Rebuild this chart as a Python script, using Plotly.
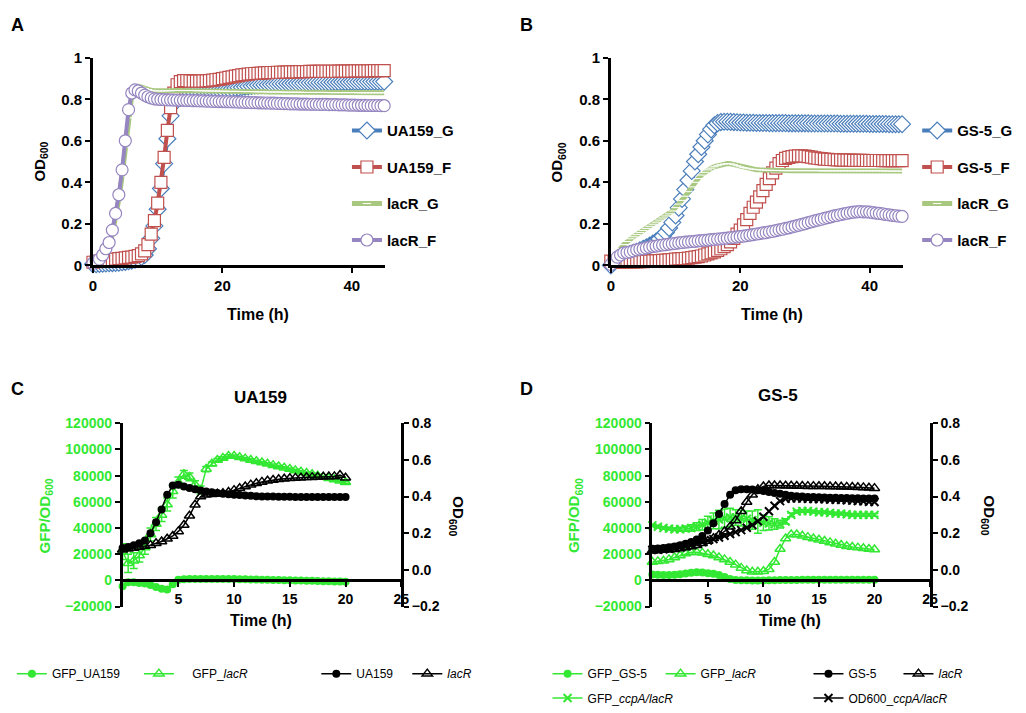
import plotly.graph_objects as go

# ---------------- data ----------------
hours_ab = [0, 0.5, 1, 1.5, 2, 2.5, 3, 3.5, 4, 4.5,
            5, 5.5, 6, 6.5, 7, 7.5, 8, 8.5, 9, 9.5,
            10, 10.5, 11, 11.5, 12, 12.5, 13, 13.5, 14, 14.5,
            15, 15.5, 16, 16.5, 17, 17.5, 18, 18.5, 19, 19.5,
            20, 20.5, 21, 21.5, 22, 22.5, 23, 23.5, 24, 24.5,
            25, 25.5, 26, 26.5, 27, 27.5, 28, 28.5, 29, 29.5,
            30, 30.5, 31, 31.5, 32, 32.5, 33, 33.5, 34, 34.5,
            35, 35.5, 36, 36.5, 37, 37.5, 38, 38.5, 39, 39.5,
            40, 40.5, 41, 41.5, 42, 42.5, 43, 43.5, 44, 44.5,
            45]

# panel A (UA159 background)
a_ua159_g = [0.005, 0.006, 0.007, 0.008, 0.009, 0.010, 0.011, 0.012, 0.013, 0.015,
             0.017, 0.020, 0.023, 0.027, 0.032, 0.040, 0.050, 0.080, 0.130, 0.190,
             0.270, 0.370, 0.490, 0.610, 0.720, 0.780, 0.810, 0.820, 0.825, 0.830,
             0.833, 0.835, 0.837, 0.838, 0.840, 0.841, 0.842, 0.843, 0.844, 0.845,
             0.846, 0.848, 0.850, 0.852, 0.854, 0.856, 0.858, 0.860, 0.862, 0.864,
             0.866, 0.867, 0.868, 0.869, 0.870, 0.871, 0.872, 0.873, 0.874, 0.875,
             0.876, 0.876, 0.877, 0.877, 0.878, 0.878, 0.879, 0.879, 0.880, 0.880,
             0.880, 0.881, 0.881, 0.881, 0.882, 0.882, 0.882, 0.883, 0.883, 0.883,
             0.884, 0.884, 0.884, 0.884, 0.885, 0.885, 0.885, 0.885, 0.885, 0.885,
             0.885]
a_ua159_f = [0.015, 0.018, 0.020, 0.022, 0.024, 0.026, 0.028, 0.030, 0.032, 0.034,
             0.036, 0.038, 0.040, 0.043, 0.047, 0.055, 0.070, 0.100, 0.150, 0.215,
             0.300, 0.400, 0.520, 0.650, 0.760, 0.830, 0.870, 0.885, 0.890, 0.890,
             0.888, 0.887, 0.887, 0.887, 0.888, 0.889, 0.890, 0.892, 0.894, 0.896,
             0.899, 0.902, 0.905, 0.908, 0.911, 0.914, 0.917, 0.919, 0.921, 0.923,
             0.924, 0.925, 0.926, 0.927, 0.928, 0.929, 0.929, 0.930, 0.930, 0.931,
             0.931, 0.932, 0.932, 0.932, 0.933, 0.933, 0.933, 0.934, 0.934, 0.934,
             0.934, 0.935, 0.935, 0.935, 0.935, 0.935, 0.936, 0.936, 0.936, 0.936,
             0.936, 0.937, 0.937, 0.937, 0.937, 0.937, 0.937, 0.938, 0.938, 0.938,
             0.938]
a_lacr_g = [0.010, 0.015, 0.022, 0.040, 0.070, 0.100, 0.150, 0.230, 0.320, 0.430,
            0.570, 0.710, 0.820, 0.855, 0.862, 0.858, 0.852, 0.847, 0.843, 0.841,
            0.840, 0.840, 0.840, 0.841, 0.841, 0.842, 0.842, 0.842, 0.842, 0.842,
            0.842, 0.842, 0.841, 0.841, 0.841, 0.840, 0.840, 0.840, 0.840, 0.839,
            0.839, 0.839, 0.838, 0.838, 0.838, 0.838, 0.837, 0.837, 0.837, 0.837,
            0.836, 0.836, 0.836, 0.836, 0.835, 0.835, 0.835, 0.835, 0.835, 0.834,
            0.834, 0.834, 0.834, 0.834, 0.834, 0.833, 0.833, 0.833, 0.833, 0.833,
            0.833, 0.833, 0.833, 0.832, 0.832, 0.832, 0.832, 0.832, 0.832, 0.832,
            0.832, 0.832, 0.831, 0.831, 0.831, 0.831, 0.831, 0.831, 0.831, 0.831,
            0.831]
a_lacr_f = [0.010, 0.020, 0.030, 0.050, 0.080, 0.110, 0.170, 0.250, 0.340, 0.460,
            0.600, 0.750, 0.830, 0.845, 0.840, 0.830, 0.820, 0.812, 0.806, 0.802,
            0.800, 0.799, 0.798, 0.797, 0.797, 0.796, 0.796, 0.795, 0.795, 0.794,
            0.794, 0.793, 0.793, 0.792, 0.792, 0.791, 0.791, 0.790, 0.790, 0.789,
            0.789, 0.788, 0.788, 0.787, 0.787, 0.786, 0.786, 0.785, 0.785, 0.784,
            0.784, 0.783, 0.783, 0.782, 0.782, 0.781, 0.781, 0.780, 0.780, 0.779,
            0.779, 0.778, 0.778, 0.778, 0.777, 0.777, 0.777, 0.776, 0.776, 0.776,
            0.775, 0.775, 0.775, 0.774, 0.774, 0.774, 0.773, 0.773, 0.773, 0.772,
            0.772, 0.772, 0.771, 0.771, 0.771, 0.770, 0.770, 0.770, 0.770, 0.769,
            0.769]

# panel B (GS-5 background)
b_gs5_g = [0.000, 0.015, 0.030, 0.038, 0.045, 0.050, 0.055, 0.060, 0.065, 0.072,
           0.080, 0.087, 0.095, 0.105, 0.115, 0.127, 0.140, 0.158, 0.180, 0.207,
           0.240, 0.278, 0.320, 0.365, 0.410, 0.455, 0.500, 0.535, 0.570, 0.600,
           0.630, 0.655, 0.675, 0.685, 0.690, 0.692, 0.692, 0.691, 0.690, 0.689,
           0.688, 0.688, 0.687, 0.687, 0.687, 0.686, 0.686, 0.686, 0.686, 0.685,
           0.685, 0.685, 0.685, 0.685, 0.685, 0.684, 0.684, 0.684, 0.684, 0.684,
           0.684, 0.684, 0.683, 0.683, 0.683, 0.683, 0.683, 0.683, 0.683, 0.683,
           0.683, 0.682, 0.682, 0.682, 0.682, 0.682, 0.682, 0.682, 0.682, 0.682,
           0.681, 0.681, 0.681, 0.681, 0.681, 0.681, 0.680, 0.680, 0.680, 0.680,
           0.680]
b_gs5_f = [0.020, 0.018, 0.017, 0.016, 0.016, 0.016, 0.016, 0.017, 0.017, 0.018,
           0.018, 0.019, 0.020, 0.021, 0.022, 0.023, 0.024, 0.025, 0.026, 0.028,
           0.030, 0.031, 0.032, 0.033, 0.035, 0.037, 0.040, 0.042, 0.045, 0.050,
           0.055, 0.060, 0.065, 0.072, 0.080, 0.090, 0.100, 0.113, 0.130, 0.150,
           0.170, 0.195, 0.220, 0.250, 0.280, 0.305, 0.330, 0.360, 0.390, 0.418,
           0.445, 0.468, 0.490, 0.505, 0.515, 0.520, 0.524, 0.526, 0.527, 0.527,
           0.526, 0.524, 0.521, 0.518, 0.516, 0.514, 0.512, 0.511, 0.510, 0.509,
           0.508, 0.508, 0.507, 0.507, 0.507, 0.506, 0.506, 0.506, 0.506, 0.505,
           0.505, 0.505, 0.505, 0.505, 0.504, 0.504, 0.504, 0.504, 0.504, 0.504,
           0.504]
b_lacr_g = [0.000, 0.030, 0.060, 0.080, 0.100, 0.115, 0.128, 0.138, 0.148, 0.158,
            0.168, 0.178, 0.188, 0.198, 0.208, 0.218, 0.228, 0.238, 0.248, 0.262,
            0.278, 0.295, 0.313, 0.333, 0.355, 0.378, 0.400, 0.418, 0.435, 0.448,
            0.460, 0.468, 0.475, 0.480, 0.485, 0.488, 0.490, 0.489, 0.485, 0.480,
            0.475, 0.471, 0.468, 0.465, 0.463, 0.461, 0.460, 0.459, 0.458, 0.458,
            0.457, 0.457, 0.457, 0.456, 0.456, 0.456, 0.456, 0.456, 0.456, 0.456,
            0.456, 0.456, 0.456, 0.456, 0.456, 0.455, 0.455, 0.455, 0.455, 0.455,
            0.455, 0.455, 0.455, 0.455, 0.455, 0.455, 0.455, 0.455, 0.455, 0.455,
            0.455, 0.455, 0.455, 0.455, 0.455, 0.454, 0.454, 0.454, 0.454, 0.454,
            0.454]
b_lacr_f = [0.005, 0.020, 0.040, 0.050, 0.060, 0.062, 0.065, 0.070, 0.075, 0.078,
            0.080, 0.084, 0.088, 0.091, 0.093, 0.096, 0.098, 0.100, 0.102, 0.104,
            0.106, 0.108, 0.110, 0.112, 0.113, 0.115, 0.116, 0.118, 0.119, 0.121,
            0.122, 0.124, 0.125, 0.127, 0.128, 0.130, 0.131, 0.133, 0.135, 0.137,
            0.139, 0.141, 0.143, 0.146, 0.148, 0.151, 0.153, 0.156, 0.158, 0.161,
            0.164, 0.167, 0.171, 0.174, 0.178, 0.181, 0.185, 0.189, 0.193, 0.197,
            0.201, 0.206, 0.210, 0.214, 0.218, 0.222, 0.226, 0.230, 0.234, 0.238,
            0.241, 0.245, 0.248, 0.251, 0.254, 0.256, 0.258, 0.259, 0.258, 0.258,
            0.256, 0.254, 0.252, 0.250, 0.248, 0.245, 0.243, 0.241, 0.239, 0.237,
            0.236]

hours_cd = [0, 0.5, 1, 1.5, 2, 2.5, 3, 3.5, 4, 4.5,
            5, 5.5, 6, 6.5, 7, 7.5, 8, 8.5, 9, 9.5,
            10, 10.5, 11, 11.5, 12, 12.5, 13, 13.5, 14, 14.5,
            15, 15.5, 16, 16.5, 17, 17.5, 18, 18.5, 19, 19.5,
            20]

# panel C (UA159)
c_gfp_ua159 = [-4500, -1500, -1500, -2000, -2500, -3500, -5000, -6500, -7000, -3000,
               500, 800, 1000, 1000, 1000, 1000, 1000, 1000, 1000, 1000,
               1000, 900, 800, 700, 600, 500, 400, 300, 200, 100,
               0, -100, -200, -300, -400, -500, -600, -700, -800, -900,
               -1000]
c_gfp_lacr = [22000, 13000, 15000, 19000, 25000, 35000, 43000, 50000, 58000, 68000,
              75000, 81000, 79000, 73000, 69000, 85000, 89000, 92000, 93500, 95000,
              95000, 94000, 93000, 92000, 91000, 90000, 89000, 88000, 87000, 86000,
              85000, 84000, 83000, 82000, 81000, 80000, 79000, 78000, 77000, 76000,
              75000]
c_gfp_lacr_err = [6000, 7000, 6000, 5000, 5000, 5000, 5000, 5000, 5000, 5000,
                  4000, 3000, 3000, 3000, 3000, 2000, 1500, 1000, 1000, 1000,
                  800, 800, 800, 800, 800, 800, 800, 800, 800, 800,
                  800, 800, 800, 800, 800, 800, 800, 800, 800, 800,
                  800]
c_od_ua159 = [0.120, 0.125, 0.135, 0.145, 0.160, 0.200, 0.260, 0.330, 0.410, 0.460,
              0.465, 0.455, 0.447, 0.440, 0.433, 0.428, 0.424, 0.420, 0.416, 0.413,
              0.410, 0.408, 0.406, 0.404, 0.402, 0.401, 0.400, 0.400, 0.399, 0.399,
              0.399, 0.398, 0.398, 0.398, 0.398, 0.398, 0.398, 0.398, 0.398, 0.398,
              0.398]
c_od_lacr = [0.110, 0.115, 0.120, 0.125, 0.130, 0.135, 0.145, 0.155, 0.170, 0.185,
             0.210, 0.245, 0.295, 0.355, 0.400, 0.410, 0.413, 0.415, 0.418, 0.425,
             0.435, 0.445, 0.455, 0.465, 0.473, 0.480, 0.486, 0.490, 0.494, 0.497,
             0.500, 0.502, 0.503, 0.505, 0.506, 0.507, 0.508, 0.509, 0.510, 0.518,
             0.503]

# panel D (GS-5)
d_gfp_gs5 = [4500, 4200, 4000, 4000, 4200, 4600, 5200, 5800, 6200, 6000,
             5500, 5000, 4000, 2500, 1000, 300, 100, 0, -100, -100,
             -100, 0, 100, 200, 200, 300, 300, 400, 400, 400,
             400, 400, 500, 500, 500, 500, 500, 500, 500, 500,
             500]
d_gfp_lacr = [14000, 14500, 15000, 16000, 17500, 19000, 20500, 21500, 21500, 21000,
              20000, 19000, 17500, 16000, 14000, 12000, 9500, 7500, 6500, 6500,
              7000, 8500, 14000, 24000, 32000, 35000, 35000, 34000, 33000, 32000,
              31000, 30000, 29000, 28000, 27000, 26000, 25500, 25000, 24500, 24000,
              23500]
d_gfp_ccpa = [42000, 41000, 40000, 39500, 39000, 39000, 39500, 40000, 41000, 42500,
              44000, 45500, 46500, 47500, 48000, 48000, 47500, 47000, 46000, 45000,
              44000, 43500, 43000, 43000, 45000, 50000, 52500, 53000, 53000, 52500,
              52000, 52000, 51500, 51000, 51000, 50500, 50000, 50000, 50000, 50000,
              50000]
d_gfp_ccpa_err = [1000, 1000, 1000, 1000, 1000, 1500, 2000, 2500, 3000, 4000,
                  5000, 6000, 7000, 7000, 7000, 6000, 6000, 6000, 7000, 9000,
                  6000, 5000, 4000, 3000, 2000, 1500, 1000, 1000, 1000, 1000,
                  1000, 1000, 1000, 1000, 1000, 1000, 1000, 1000, 1000, 1000,
                  1000]
d_od_gs5 = [0.115, 0.117, 0.120, 0.123, 0.128, 0.134, 0.142, 0.152, 0.166, 0.185,
            0.215, 0.255, 0.305, 0.360, 0.410, 0.435, 0.440, 0.440, 0.438, 0.435,
            0.430, 0.425, 0.420, 0.415, 0.410, 0.405, 0.402, 0.400, 0.398, 0.397,
            0.396, 0.395, 0.394, 0.393, 0.392, 0.392, 0.391, 0.391, 0.390, 0.390,
            0.390]
d_od_lacr = [0.105, 0.106, 0.108, 0.110, 0.113, 0.117, 0.122, 0.128, 0.135, 0.145,
             0.158, 0.172, 0.190, 0.210, 0.235, 0.270, 0.320, 0.370, 0.410, 0.440,
             0.455, 0.460, 0.460, 0.460, 0.459, 0.459, 0.458, 0.458, 0.457, 0.457,
             0.456, 0.456, 0.455, 0.455, 0.454, 0.453, 0.452, 0.451, 0.450, 0.448,
             0.446]
d_od_ccpa = [0.110, 0.110, 0.112, 0.115, 0.120, 0.125, 0.130, 0.138, 0.145, 0.152,
             0.160, 0.168, 0.177, 0.186, 0.196, 0.206, 0.217, 0.230, 0.245, 0.265,
             0.290, 0.320, 0.350, 0.375, 0.388, 0.390, 0.390, 0.389, 0.388, 0.387,
             0.386, 0.385, 0.384, 0.383, 0.382, 0.380, 0.378, 0.376, 0.374, 0.372,
             0.370]

# ---------------- style ----------------
W, H = 1026, 713
FONT = 'Arial, Liberation Sans, sans-serif'
BLUE, RED, GREEN_A, PURPLE = '#4a7ebb', '#c0504d', '#a8c880', '#9585c0'
GREEN = '#33e833'
NB = '\u00a0'


def px(x):
    return x / W


def py(y):
    return 1 - y / H


fig = go.Figure()


def growth(xa, ya, y, name, color, symbol, size, legend):
    width = 4
    if symbol == 'line-ew':
        marker = dict(symbol='line-ew', size=6, color='white', line=dict(color='white', width=1))
        width = 5
    else:
        marker = dict(symbol=symbol, size=size, color='white', line=dict(color=color, width=1.2))
    fig.add_trace(go.Scatter(x=hours_ab, y=y, name=name, mode='lines+markers', xaxis=xa, yaxis=ya,
                             line=dict(color=color, width=width), marker=marker, cliponaxis=False,
                             legend=legend, legendgroup=legend + name))


growth('x', 'y', a_ua159_g, 'UA159_G', BLUE, 'diamond', 13, 'legend')
growth('x', 'y', a_ua159_f, 'UA159_F', RED, 'square', 12, 'legend')
growth('x', 'y', a_lacr_g, 'lacR_G', GREEN_A, 'line-ew', 9, 'legend')
growth('x', 'y', a_lacr_f, 'lacR_F', PURPLE, 'circle', 12, 'legend')

growth('x2', 'y2', b_gs5_g, 'GS-5_G', BLUE, 'diamond', 13, 'legend2')
growth('x2', 'y2', b_gs5_f, 'GS-5_F', RED, 'square', 12, 'legend2')
growth('x2', 'y2', b_lacr_g, 'lacR_G', GREEN_A, 'line-ew', 9, 'legend2')
growth('x2', 'y2', b_lacr_f, 'lacR_F', PURPLE, 'circle', 12, 'legend2')


def gfp(xa, ya, y, name, color, symbol, legend, err=None):
    if symbol == 'circle':
        marker = dict(symbol='circle', size=8, color=color)
    elif symbol == 'triangle-up-open':
        marker = dict(symbol=symbol, size=9, color=color, line=dict(color=color, width=1.5))
    else:
        marker = dict(symbol=symbol, size=8, color=color, line=dict(color=color, width=2))
    kw = {}
    if err is not None:
        kw['error_y'] = dict(type='data', array=err, color=color, thickness=1.5, width=4)
    fig.add_trace(go.Scatter(x=hours_cd, y=y, name=name, mode='lines+markers', xaxis=xa, yaxis=ya,
                             line=dict(color=color, width=1.5), marker=marker, cliponaxis=False,
                             legend=legend, **kw))


gfp('x3', 'y4', c_od_ua159, 'UA159', 'black', 'circle', 'legend4')
gfp('x3', 'y4', c_od_lacr, '<i>lacR</i>', 'black', 'triangle-up-open', 'legend4')
gfp('x3', 'y3', c_gfp_ua159, 'GFP_UA159', GREEN, 'circle', 'legend3')
gfp('x3', 'y3', c_gfp_lacr, NB * 4 + 'GFP_<i>lacR</i>', GREEN, 'triangle-up-open', 'legend3', c_gfp_lacr_err)

gfp('x4', 'y6', d_od_gs5, 'GS-5', 'black', 'circle', 'legend6')
gfp('x4', 'y6', d_od_lacr, '<i>lacR</i>', 'black', 'triangle-up-open', 'legend6')
gfp('x4', 'y6', d_od_ccpa, 'OD600_<i>ccpA/lacR</i>', 'black', 'x-thin-open', 'legend8')
gfp('x4', 'y5', d_gfp_gs5, 'GFP_GS-5', GREEN, 'circle', 'legend5')
gfp('x4', 'y5', d_gfp_lacr, 'GFP_<i>lacR</i>', GREEN, 'triangle-up-open', 'legend5')
gfp('x4', 'y5', d_gfp_ccpa, 'GFP_<i>ccpA/lacR</i>', GREEN, 'x-thin-open', 'legend7', d_gfp_ccpa_err)

# ---------------- axes ----------------
bold15 = dict(family=FONT, size=15, color='black', weight='bold')
bold14 = dict(family=FONT, size=14, color='black', weight='bold')
ax_common = dict(showline=True, linecolor='black', linewidth=2.5, ticks='outside', ticklen=5,
                 tickwidth=2, tickcolor='black', showgrid=False, zeroline=False)

layout_axes = dict(
    xaxis=dict(domain=[px(90), px(386)], range=[0, 45.2], anchor='y', tickvals=[0, 20, 40],
               tickfont=bold15, **ax_common),
    yaxis=dict(domain=[py(263), py(50)], range=[0, 1], anchor='x', tickvals=[0, 0.2, 0.4, 0.6, 0.8, 1],
               tickfont=bold15, **ax_common),
    xaxis2=dict(domain=[px(614), px(910)], range=[0, 45.2], anchor='y2', tickvals=[0, 20, 40],
                tickfont=bold15, **ax_common),
    yaxis2=dict(domain=[py(263), py(50)], range=[0, 1], anchor='x2', tickvals=[0, 0.2, 0.4, 0.6, 0.8, 1],
                tickfont=bold15, **ax_common),
    xaxis3=dict(domain=[px(120), px(402)], range=[0, 25], anchor='free', position=py(586),
                tickvals=[5, 10, 15, 20, 25], tickfont=bold14, **ax_common),
    yaxis3=dict(domain=[py(613), py(425)], range=[-20000, 120000], anchor='x3',
                tickvals=[-20000, 0, 20000, 40000, 60000, 80000, 100000, 120000], tickformat='d',
                tickfont=dict(family=FONT, size=14, color=GREEN, weight='bold'), **ax_common),
    yaxis4=dict(overlaying='y3', side='right', range=[-0.2, 0.8], anchor='x3',
                tickvals=[-0.2, 0, 0.2, 0.4, 0.6, 0.8], tickformat='.1f', tickfont=bold14, **ax_common),
    xaxis4=dict(domain=[px(656), px(937)], range=[0, 25], anchor='free', position=py(586),
                tickvals=[5, 10, 15, 20, 25], tickfont=bold14, **ax_common),
    yaxis5=dict(domain=[py(613), py(425)], range=[-20000, 120000], anchor='x4',
                tickvals=[-20000, 0, 20000, 40000, 60000, 80000, 100000, 120000], tickformat='d',
                tickfont=dict(family=FONT, size=14, color=GREEN, weight='bold'), **ax_common),
    yaxis6=dict(overlaying='y5', side='right', range=[-0.2, 0.8], anchor='x4',
                tickvals=[-0.2, 0, 0.2, 0.4, 0.6, 0.8], tickformat='.1f', tickfont=bold14, **ax_common),
)

# ---------------- legends ----------------
clear = 'rgba(0,0,0,0)'
big_leg = dict(font=dict(family=FONT, size=15, color='black', weight='bold'), bgcolor=clear,
               traceorder='grouped', tracegroupgap=14, xanchor='left', yanchor='top', itemwidth=30)
small_font = dict(family=FONT, size=12, color='black')


def small_leg(x, y, ew):
    return dict(orientation='h', x=px(x), y=py(y), xanchor='left', yanchor='top', font=small_font,
                bgcolor=clear, entrywidth=ew, itemwidth=30, traceorder='normal')


legends = dict(
    legend=dict(x=px(347), y=py(108), **big_leg),
    legend2=dict(x=px(924), y=py(108), **big_leg),
    legend3=small_leg(8, 667, 82),
    legend4=small_leg(316, 667, 46),
    legend5=small_leg(550, 667, 68),
    legend6=small_leg(814, 667, 45),
    legend7=small_leg(550, 692, 100),
    legend8=small_leg(814, 692, 100),
)

# ---------------- annotations ----------------
def note(text, x, y, size=15, color='black', angle=0, bold=True):
    return dict(text=text, x=px(x), y=py(y), xref='paper', yref='paper', showarrow=False,
                textangle=angle, xanchor='center', yanchor='middle',
                font=dict(family=FONT, size=size, color=color, weight='bold' if bold else 'normal'))


notes = [
    note('A', 14, 16, 18), note('B', 529, 16, 18), note('C', 14, 390, 18), note('D', 529, 390, 18),
    note('OD<sub>600</sub>', 36, 157, 15, angle=-90), note('OD<sub>600</sub>', 560, 157, 15, angle=-90),
    note('Time (h)', 257, 313, 16), note('Time (h)', 777, 313, 16),
    note('UA159', 260, 399, 17), note('GS-5', 783, 397, 17),
    note('GFP/OD<sub>600</sub>', 42, 520, 15, GREEN, -90), note('GFP/OD<sub>600</sub>', 578, 520, 15, GREEN, -90),
    note('OD<sub>600</sub>', 458, 520, 15, angle=90), note('OD<sub>600</sub>', 996, 520, 15, angle=90),
    note('Time (h)', 260, 627, 16), note('Time (h)', 795, 627, 16),
]

fig.update_layout(width=W, height=H, autosize=False, margin=dict(l=0, r=0, t=0, b=0),
                  paper_bgcolor='white', plot_bgcolor='white', font=dict(family=FONT),
                  annotations=notes, **layout_axes, **legends)

fig.write_html("out.html", config={'displayModeBar': False},
               post_script="document.body.style.margin='0';document.body.style.overflow='hidden';")
